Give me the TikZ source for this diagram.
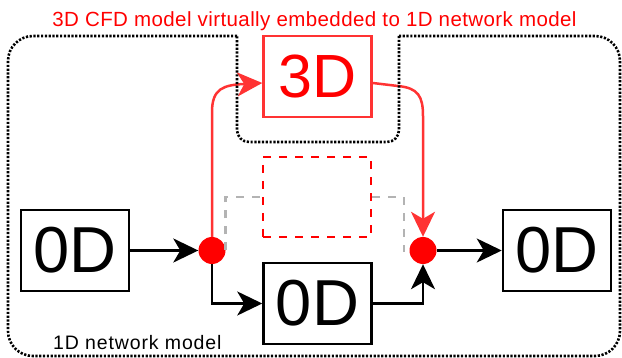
\documentclass[tikz,border=0pt]{standalone}
\usepackage{fontspec}
\setmainfont{Liberation Sans}
\newfontfamily\titlefont[LetterSpace=2.0]{Liberation Sans}
\newfontfamily\notefont[LetterSpace=4.4]{Liberation Sans}
\usetikzlibrary{arrows.meta}
\definecolor{flowred}{HTML}{FF3333}
\definecolor{ghostgray}{HTML}{B3B3B3}

\begin{document}
\begin{tikzpicture}[x=1pt,y=-1pt,
  block/.style={draw=black, line width=2.5pt, minimum width=108pt, minimum height=81pt,
                inner sep=0pt, font=\fontsize{65}{65}\selectfont},
  cfdblock/.style={block, draw=flowred, text=red, font=\fontsize{61}{61}\selectfont},
  ghostblock/.style={draw=red, line width=2.7pt, dash pattern=on 8pt off 8pt,
                minimum width=108pt, minimum height=80pt, inner sep=0pt},
  junction/.style={circle, fill=red, minimum size=27pt, inner sep=0pt},
  flow/.style={-{Stealth[length=25pt,width=24pt,inset=7pt]}, line width=2.5pt},
  redflow/.style={flow, draw=flowred},
  ghostlink/.style={draw=ghostgray, line width=2.8pt, dash pattern=on 8pt off 8pt},
  boundary/.style={line width=2.6pt, dash pattern=on 2.2pt off 1.6pt}
]
\useasboundingbox (0,0) rectangle (622,358);

% blocks
\node[block] (zl) at (75,250.5) {0D};
\node[block] (zm) at (317.5,303.5) {0D};
\node[block] (zr) at (557,250.5) {0D};
\node[cfdblock] (td) at (317.5,76.5) {3D};
\node[ghostblock] (gh) at (317,197) {};

% junctions
\node[junction] (jl) at (212,250.5) {};
\node[junction] (jr) at (423,250.5) {};

% placeholder links of the replaced segment
\coordinate (gend) at (404,252);
\draw[ghostlink] (jl.east) |- (gh.west);
\draw[ghostlink] (gh.east) -| (gend);

% 1D network flow
\draw[flow] (zl) -- (jl);
\draw[flow] (jr) -- (zr);
\draw[flow] (jl.south) |- (zm.west);
\draw[flow] (zm.east) -| (jr.south);

% coupling to the 3D model
\coordinate (tdin) at ([yshift=-6.5pt]td.west);
\coordinate (tdout) at ([yshift=-6.5pt]td.east);
\draw[redflow] (jl.north) -- (212,112) .. controls (212,88) and (224,85) .. (tdin);
\draw[redflow] (tdout) -- (398,86) .. controls (418,88) and (423,96) .. (423,116) -- (jr.north);

% 1D network boundary
\draw[boundary, rounded corners=25pt] (237,36) -- (8,36) -- (8,356) -- (620,356) -- (620,36) -- (399,36);
\draw[boundary, rounded corners=12pt] (399,36) -- (399,142) -- (237,142) -- (237,36);

% labels
\node[text=red, font=\titlefont\fontsize{20.5}{21}\selectfont, anchor=base, inner sep=0pt]
  (title) at (314.5,27) {3D CFD model virtually embedded to 1D network model};
\node[font=\notefont\fontsize{19.5}{20}\selectfont, anchor=base west, inner sep=0pt]
  (netlabel) at (53,350) {1D network model};
\end{tikzpicture}
\end{document}
